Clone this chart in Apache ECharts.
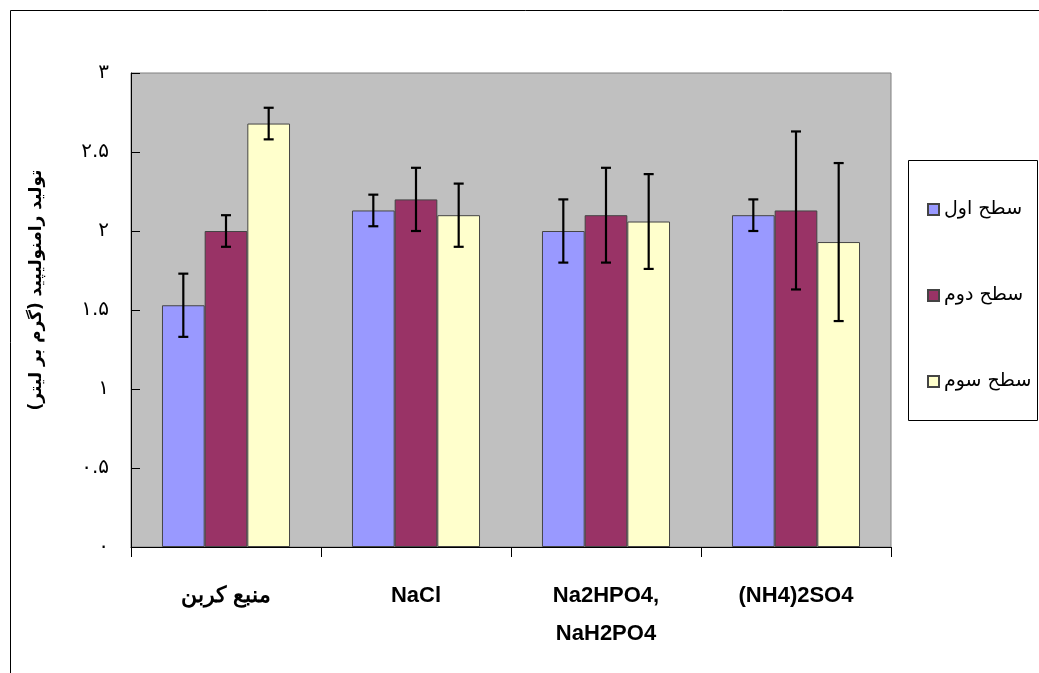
<!DOCTYPE html>
<html><head><meta charset="utf-8">
<script src="https://cdn.jsdelivr.net/npm/echarts@6/dist/echarts.min.js"></script>
<style>html,body{margin:0;padding:0;background:#fff}#c{width:1039px;height:673px}</style>
</head><body><div id="c"></div>
<script>
var categories = ['منبع کربن', 'NaCl', 'Na2HPO4,\nNaH2PO4', '(NH4)2SO4'];
var seriesNames = ['سطح اول', 'سطح دوم', 'سطح سوم'];
var level1 = [1.53, 2.13, 2.0, 2.1];
var level2 = [2.0, 2.2, 2.1, 2.13];
var level3 = [2.68, 2.1, 2.06, 1.93];
var err1 = [0.2, 0.1, 0.2, 0.1];
var err2 = [0.1, 0.2, 0.3, 0.5];
var err3 = [0.1, 0.2, 0.3, 0.5];
var yTicks = [0, 0.5, 1, 1.5, 2, 2.5, 3];

var values = [level1, level2, level3];
var errs = [err1, err2, err3];
var colors = ['#9999FF', '#993366', '#FFFFCC'];
var gapPct = 32.6;

function fa(v) {
  var d = '۰۱۲۳۴۵۶۷۸۹';
  return String(v).replace(/[0-9]/g, function (c) { return d[+c]; });
}

var series = [];
values.forEach(function (arr, i) {
  series.push({
    name: seriesNames[i], type: 'bar', data: arr,
    barGap: '0%', barCategoryGap: gapPct + '%',
    itemStyle: { color: colors[i], borderColor: '#444', borderWidth: 1 },
    emphasis: { disabled: true }
  });
});
values.forEach(function (arr, i) {
  var data = arr.map(function (v, k) { return [k, v - errs[i][k], v + errs[i][k]]; });
  series.push({
    type: 'custom', data: data, z: 10, silent: true,
    renderItem: function (params, api) {
      var k = api.value(0);
      var lo = api.coord([k, api.value(1)]);
      var hi = api.coord([k, api.value(2)]);
      var band = api.size([1, 0])[0];
      var bw = band * (1 - gapPct / 100) / 3;
      var x = lo[0] + (i - 1) * bw;
      var c = 5;
      var st = { stroke: '#000', lineWidth: 2.2 };
      return { type: 'group', children: [
        { type: 'line', shape: { x1: x, y1: lo[1], x2: x, y2: hi[1] }, style: st },
        { type: 'line', shape: { x1: x - c, y1: lo[1], x2: x + c, y2: lo[1] }, style: st },
        { type: 'line', shape: { x1: x - c, y1: hi[1], x2: x + c, y2: hi[1] }, style: st }
      ]};
    }
  });
});

var chart = echarts.init(document.getElementById('c'), null, { renderer: 'canvas' });
chart.setOption({
  animation: false,
  backgroundColor: '#fff',
  graphic: [
    { type: 'rect', shape: { x: 10.5, y: 10.5, width: 1040, height: 680 }, style: { fill: 'none', stroke: '#000', lineWidth: 1 }, z: -10 },
    { type: 'rect', shape: { x: 908.5, y: 160.5, width: 129, height: 260 }, style: { fill: '#fff', stroke: '#000', lineWidth: 1 }, z: -5 }
  ],
  grid: { left: 131, right: 148, top: 73, bottom: 126, show: true, backgroundColor: '#C0C0C0', borderColor: '#808080', borderWidth: 1 },
  legend: {
    orient: 'vertical', left: 922, top: 195, itemGap: 67,
    itemWidth: 11, itemHeight: 11, icon: 'rect',
    textStyle: { fontFamily: 'DejaVu Sans', fontSize: 19, color: '#000' },
    data: seriesNames
  },
  xAxis: {
    type: 'category', data: categories,
    axisLine: { lineStyle: { color: '#000', width: 1 } },
    axisTick: { show: true, length: 10, lineStyle: { color: '#000' } },
    axisLabel: { margin: 30, fontFamily: 'Liberation Sans', fontWeight: 'bold', fontSize: 22, color: '#000', lineHeight: 38, interval: 0, verticalAlign: 'top' }
  },
  yAxis: {
    type: 'value', min: 0, max: 3, interval: 0.5,
    name: 'تولید رامنولیپید (گرم بر لیتر)',
    nameLocation: 'middle', nameRotate: 90, nameGap: 86,
    nameTextStyle: { fontFamily: 'DejaVu Sans', fontWeight: 'bold', fontSize: 17, color: '#000', padding: [0, 0, 0, 40] },
    axisLine: { show: true, lineStyle: { color: '#000' } },
    axisTick: { show: true, inside: true, length: 9, lineStyle: { color: '#000' } },
    splitLine: { show: false },
    axisLabel: { margin: 22, fontFamily: 'DejaVu Sans', fontSize: 20, color: '#000', formatter: function (v) { return fa(v); } }
  },
  series: series
});
</script></body></html>
